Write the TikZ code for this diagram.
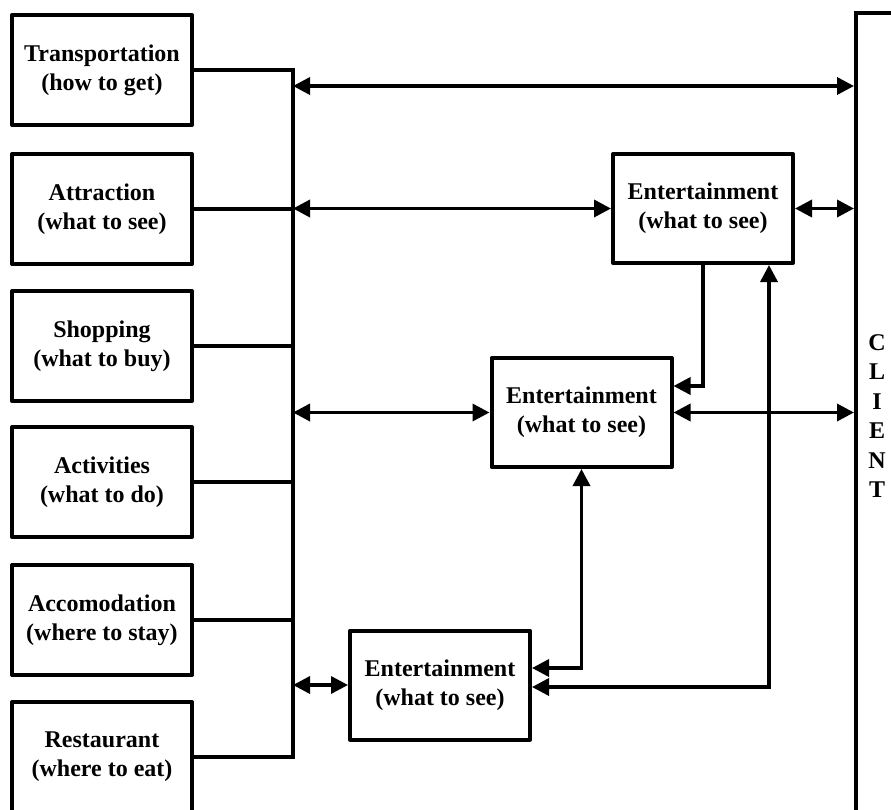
\documentclass[tikz,border=0pt]{standalone}
\usepackage{fontspec}
\setmainfont{Liberation Serif}
\usetikzlibrary{arrows.meta}
\begin{document}
\begin{tikzpicture}[x=1pt,y=-1pt,
  box/.style={draw, line width=4pt, line join=round, minimum width=180pt, align=center,
    font=\fontsize{24}{29}\selectfont\bfseries, inner sep=2pt},
  lbox/.style={box, minimum height=110pt},
  ebox/.style={box, minimum height=109pt},
  conn/.style={line width=3.5pt},
  dbl/.style={conn, {Triangle[length=17pt,width=17pt]}-{Triangle[length=17pt,width=17pt]}},
  sgl/.style={conn, -{Triangle[length=17pt,width=17pt]}}]
\useasboundingbox (0,0) rectangle (891,809);
\clip (0,0) rectangle (891,809);
% left boxes
\node[lbox] (b1) at (102,70) {Transportation\\(how to get)};
\node[lbox] (b2) at (102,209) {Attraction\\(what to see)};
\node[lbox] (b3) at (102,346) {Shopping\\(what to buy)};
\node[lbox] (b4) at (102,482) {Activities\\(what to do)};
\node[lbox] (b5) at (102,620) {Accomodation\\(where to stay)};
\node[lbox] (b6) at (102,757) {Restaurant\\(where to eat)};
% client
\node[draw, line width=4pt, minimum width=42pt, minimum height=806pt, align=center,
  font=\fontsize{24}{29.5}\selectfont\bfseries] (client) at (877,416) {C\\L\\I\\E\\N\\T};
% entertainment boxes
\node[ebox] (e1) at (703,208.5) {Entertainment\\(what to see)};
\node[ebox] (e2) at (581.5,412.5) {Entertainment\\(what to see)};
\node[ebox] (e3) at (440,685) {Entertainment\\(what to see)};
% bus
\coordinate (bus) at (293,0);
\draw[conn] (b1.east) -- (b1.east -| bus) -- (b6.east -| bus) -- (b6.east);
\foreach \b in {b2,b3,b4,b5} \draw[conn] (\b.east) -- (\b.east -| bus);
% arrows
\coordinate (a1) at (293,86);
\draw[dbl] (a1) -- (a1 -| client.west);
\draw[dbl] (e1.west -| bus) -- (e1.west);
\draw[dbl] (e1.east) -- (e1.east -| client.west);
\draw[dbl] (e2.west -| bus) -- (e2.west);
\draw[dbl] (e2.east) -- (e2.east -| client.west);
\draw[dbl] (e3.west -| bus) -- (e3.west);
\draw[sgl] (e1.south) |- ([yshift=26.5pt]e2.east);
\draw[dbl] ([xshift=66pt]e1.south) |- ([yshift=-2pt]e3.east);
\draw[dbl] (e2.south) |- ([yshift=17pt]e3.east);
\end{tikzpicture}
\end{document}
